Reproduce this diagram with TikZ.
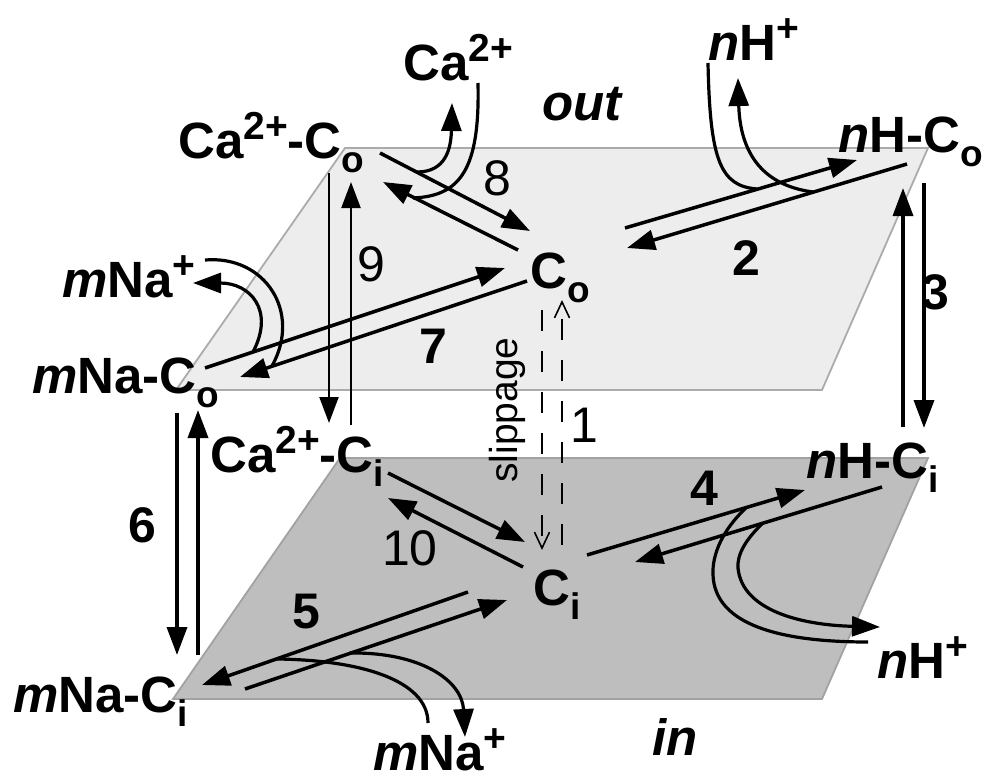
\documentclass[tikz,border=0pt]{standalone}
\usepackage{fontspec}
\setmainfont{Liberation Sans}
\usetikzlibrary{arrows.meta}
\definecolor{topfill}{HTML}{EDEDED}
\definecolor{topedge}{HTML}{ABABAB}
\definecolor{botfill}{HTML}{BEBEBE}
\definecolor{botedge}{HTML}{A2A2A2}
\newcommand{\sps}[1]{\raisebox{19pt}{\fontsize{39}{39}\selectfont #1}}
\newcommand{\sbs}[1]{\raisebox{-14pt}{\fontsize{37}{37}\selectfont #1}}
\begin{document}
\begin{tikzpicture}[x=1pt,y=-1pt,
  lbl/.style={inner sep=0pt, anchor=base west, font=\fontsize{51}{55}\selectfont\bfseries},
  numb/.style={inner sep=0pt, font=\fontsize{50}{55}\selectfont\bfseries},
  numr/.style={inner sep=0pt, font=\fontsize{50}{55}\selectfont},
  bigarrow/.style={line width=3.5pt, -{Triangle[length=28pt,width=20pt]}},
  smallarrow/.style={line width=2.2pt, -{Triangle[length=26pt,width=19pt]}},
  ionline/.style={line width=3.2pt},
  ionarrow/.style={line width=3.2pt, -{Triangle[length=28pt,width=20pt]}},
  sliparrow/.style={line width=1.6pt, dash pattern=on 21pt off 20pt, -{Straight Barb[length=16pt,width=15pt]}},
  plane/.style={line width=1.8pt, line join=miter}
]
\useasboundingbox (0,0) rectangle (991,779);
% planes
\filldraw[plane, fill=topfill, draw=topedge] (345,148) -- (928,148) -- (822,390) -- (176,390) -- cycle;
\filldraw[plane, fill=botfill, draw=botedge] (340,458) -- (928,458) -- (822,699) -- (173,699) -- cycle;

% species labels
\node[lbl] (caout) at (403,80) {Ca\sps{2+}};
\node[lbl] (caCo) at (178,158) {Ca\sps{2+}-C\sbs{o}};
\node[lbl, anchor=base east, font=\fontsize{51}{55}\selectfont\bfseries\itshape] (outlbl) at (622,120) {out};
\node[lbl] (hout) at (708,60) {\textit{n}H\sps{+}};
\node[lbl] (hCo) at (838,152) {\textit{n}H-C\sbs{o}};
\node[lbl] (Co) at (530,288) {C\sbs{o}};
\node[lbl] (naout) at (62,297) {\textit{m}Na\sps{+}};
\node[lbl] (naCo) at (32,393) {\textit{m}Na-C\sbs{o}};
\node[lbl] (caCi) at (210,472) {Ca\sps{2+}-C\sbs{i}};
\node[lbl] (hCi) at (806,478) {\textit{n}H-C\sbs{i}};
\node[lbl] (Ci) at (533,605) {C\sbs{i}};
\node[lbl] (naCi) at (13,712) {\textit{m}Na-C\sbs{i}};
\node[lbl] (nain) at (373,770) {\textit{m}Na\sps{+}};
\node[lbl] (hin) at (877,678) {\textit{n}H\sps{+}};
\node[lbl, font=\fontsize{51}{55}\selectfont\bfseries\itshape] (inlbl) at (652,755) {in};

% step numbers
\node[numr] (n8) at (497,178) {8};
\node[numr] (n9) at (371,264) {9};
\node[numb] (n2) at (746,258) {2};
\node[numb] (n3) at (935,292) {3};
\node[numb] (n7) at (433,346) {7};
\node[numr] (n1) at (584,425) {1};
\node[inner sep=0pt, rotate=90, font=\fontsize{39}{40}\selectfont] (sliplbl) at (507,410) {slippage};
\node[numb] (n4) at (704,488) {4};
\node[numb] (n6) at (142,525) {6};
\node[numr] (n10) at (410,548) {10};
\node[numb] (n5) at (306,612) {5};

% connector end points
\coordinate (p8a) at (380,153); \coordinate (q8a) at (530,231);
\coordinate (p8b) at (518,250); \coordinate (q8b) at (383,182);
\coordinate (p9a) at (329,173); \coordinate (q9a) at (329,423);
\coordinate (p9b) at (351,425); \coordinate (q9b) at (351,182);
\coordinate (p2a) at (625,228); \coordinate (q2a) at (857,160);
\coordinate (p2b) at (907,164); \coordinate (q2b) at (627,248);
\coordinate (p3a) at (903,427); \coordinate (q3a) at (903,188);
\coordinate (p3b) at (924,183); \coordinate (q3b) at (924,428);
\coordinate (p7a) at (205,368); \coordinate (q7a) at (505,268);
\coordinate (p7b) at (527,281); \coordinate (q7b) at (240,377);
\coordinate (p6a) at (177,413); \coordinate (q6a) at (177,655);
\coordinate (p6b) at (198,655); \coordinate (q6b) at (198,410);
\coordinate (p10a) at (388,473); \coordinate (q10a) at (525,542);
\coordinate (p10b) at (523,567); \coordinate (q10b) at (388,498);
\coordinate (p1a) at (542,310); \coordinate (q1a) at (542,550);
\coordinate (p1b) at (562,545); \coordinate (q1b) at (562,300);
\coordinate (p4a) at (587,555); \coordinate (q4a) at (805,490);
\coordinate (p4b) at (882,487); \coordinate (q4b) at (635,562);
\coordinate (p5a) at (468,592); \coordinate (q5a) at (202,685);
\coordinate (p5b) at (245,689); \coordinate (q5b) at (507,600);

% ion curve end points
\coordinate (ca1s) at (417,172); \coordinate (ca1e) at (452,103);
\coordinate (ca2s) at (478,83);  \coordinate (ca2e) at (413,198);
\coordinate (h1s) at (708,63);   \coordinate (h1e) at (757,189);
\coordinate (h2s) at (813,192);  \coordinate (h2e) at (738,78);
\coordinate (na1s) at (205,260); \coordinate (na1e) at (272,366);
\coordinate (na2s) at (253,352); \coordinate (na2e) at (193,283);
\coordinate (h3s) at (747,507);  \coordinate (h3e) at (868,642);
\coordinate (h4s) at (763,523);  \coordinate (h4e) at (880,627);
\coordinate (na3s) at (277,659); \coordinate (na3e) at (428,723);
\coordinate (na4s) at (350,653); \coordinate (na4e) at (465,737);

% transitions
\draw[bigarrow] (p8a) -- (q8a);
\draw[bigarrow] (p8b) -- (q8b);
\draw[smallarrow] (p9a) -- (q9a);
\draw[smallarrow] (p9b) -- (q9b);
\draw[bigarrow] (p2a) -- (q2a);
\draw[bigarrow] (p2b) -- (q2b);
\draw[bigarrow] (p3a) -- (q3a);
\draw[bigarrow] (p3b) -- (q3b);
\draw[bigarrow] (p7a) -- (q7a);
\draw[bigarrow] (p7b) -- (q7b);
\draw[bigarrow] (p6a) -- (q6a);
\draw[bigarrow] (p6b) -- (q6b);
\draw[bigarrow] (p10a) -- (q10a);
\draw[bigarrow] (p10b) -- (q10b);
\draw[sliparrow] (p1a) -- (q1a);
\draw[sliparrow] (p1b) -- (q1b);
\draw[bigarrow] (p4a) -- (q4a);
\draw[bigarrow] (p4b) -- (q4b);
\draw[bigarrow] (p5a) -- (q5a);
\draw[bigarrow] (p5b) -- (q5b);

% ion binding / release curves
\draw[ionarrow] (ca1s) .. controls (445,172) and (451,150) .. (ca1e);
\draw[ionline] (ca2s) .. controls (480,170) and (460,196) .. (ca2e);
\draw[ionline] (h1s) .. controls (710,160) and (720,186) .. (h1e);
\draw[ionarrow] (h2s) .. controls (760,185) and (740,150) .. (h2e);
\draw[ionline] (na1s) .. controls (265,255) and (302,312) .. (na1e);
\draw[ionarrow] (na2s) .. controls (275,310) and (250,283) .. (na2e);
\draw[ionline] (h3s) .. controls (722,530) and (712,555) .. (713,575) .. controls (715,625) and (780,642) .. (h3e);
\draw[ionarrow] (h4s) .. controls (745,540) and (737,555) .. (738,568) .. controls (742,610) and (800,625) .. (h4e);
\draw[ionline] (na3s) .. controls (360,660) and (428,680) .. (na3e);
\draw[ionarrow] (na4s) .. controls (420,652) and (462,680) .. (na4e);
\end{tikzpicture}
\end{document}
